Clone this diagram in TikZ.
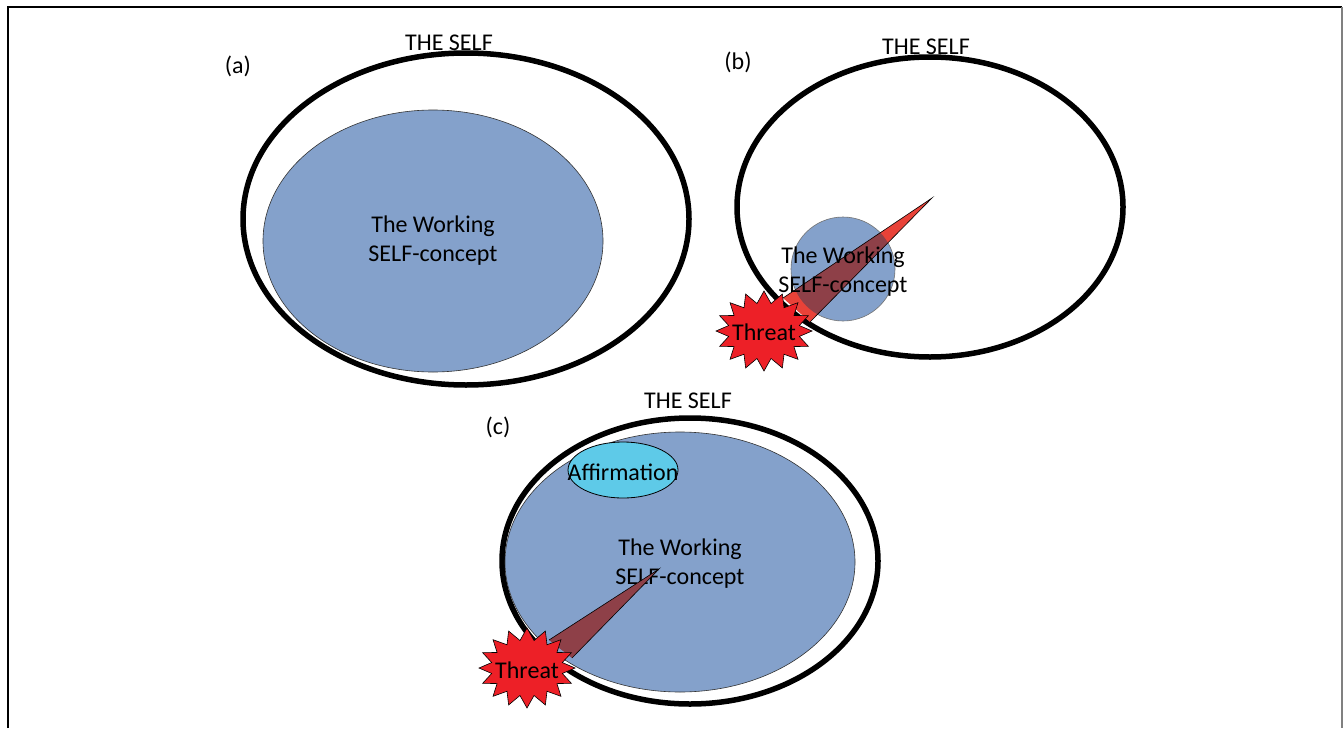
\documentclass[tikz,border=0pt]{standalone}
\usepackage{fontspec}
\setmainfont{Carlito}
\usetikzlibrary{shapes.geometric,shapes.symbols}
\definecolor{wblue}{RGB}{132,161,203}
\definecolor{affc}{RGB}{94,202,232}
\definecolor{starred}{RGB}{237,32,39}
\definecolor{wedgered}{RGB}{232,66,56}
\definecolor{wedgedark}{RGB}{142,64,72}
\tikzset{
  selfring/.style={ellipse,draw=black,line width=5.5pt,inner sep=0pt},
  wsc/.style={ellipse,draw=black!80,line width=0.6pt,fill=wblue,inner sep=0pt},
  lbl/.style={font=\fontsize{24}{29}\selectfont,align=center,inner sep=0pt},
  threatstar/.style={starburst,starburst points=16,starburst point height=12pt,random starburst=0,
     draw=black,line width=0.6pt,fill=starred,inner sep=0pt,minimum width=96pt,minimum height=80pt},
  wedge/.style={draw=black,line width=0.6pt}
}
\begin{document}
\begin{tikzpicture}[x=1pt,y=-1pt]
\useasboundingbox (0,0) rectangle (1343,728);
\draw[line width=1.5pt] (8,728) -- (8,7) -- (1342,7);
\draw[gray,line width=1.5pt] (1342,7) -- (1342,728);
% (a)
\node[selfring,minimum width=446pt,minimum height=332pt] (sa) at (466,219) {};
\node[wsc,minimum width=340pt,minimum height=262pt] (wa) at (433,241) {};
\node[lbl] (wta) at (433,241) {The Working\\SELF-concept};
\node[lbl] (tsa) at (449,43) {THE SELF};
\node[lbl] (la) at (238,66) {(a)};
% (b)
\node[selfring,minimum width=386pt,minimum height=300pt] (sb) at (930,207) {};
\node[circle,draw=black!55,line width=0.6pt,fill=wblue,inner sep=0pt,minimum size=104pt] (wb) at (843,269) {};
\coordinate (tipb) at (932,198);
\coordinate (b1) at (783,298);
\coordinate (b2) at (810,322);
\fill[wedgered] (b1) -- (tipb) -- (b2) -- cycle;
\begin{scope}
\clip (843,269) circle[radius=52pt];
\fill[wedgedark] (b1) -- (tipb) -- (b2) -- cycle;
\end{scope}
\draw[wedge] (b1) -- (tipb) -- (b2);
\node[lbl] (wtb) at (843,272) {The Working\\SELF-concept};
\node[threatstar] (thb) at (764,331) {};
\node[lbl] (thbt) at (764,332) {Threat};
\node[lbl] (tsb) at (926,47) {THE SELF};
\node[lbl] (lb) at (738,62) {(b)};
% (c)
\node[selfring,minimum width=376pt,minimum height=286pt] (sc) at (690,561) {};
\node[wsc,minimum width=350pt,minimum height=260pt] (wc) at (680,562) {};
\node[ellipse,draw=black,line width=0.8pt,fill=affc,inner sep=0pt,minimum width=110pt,minimum height=56pt] (af) at (623,470) {};
\node[lbl] (aft) at (623,472) {Affirmation};
\node[lbl] (wtc) at (680,564) {The Working\\SELF-concept};
\coordinate (tipc) at (659,569);
\coordinate (c1) at (549,640);
\coordinate (c2) at (572,658);
\draw[wedge,fill=wedgedark] (c1) -- (tipc) -- (c2);
\node[threatstar] (thc) at (527,668) {};
\node[lbl] (thct) at (527,670) {Threat};
\node[lbl] (tsc) at (688,401) {THE SELF};
\node[lbl] (lc) at (498,427) {(c)};
\end{tikzpicture}
\end{document}
